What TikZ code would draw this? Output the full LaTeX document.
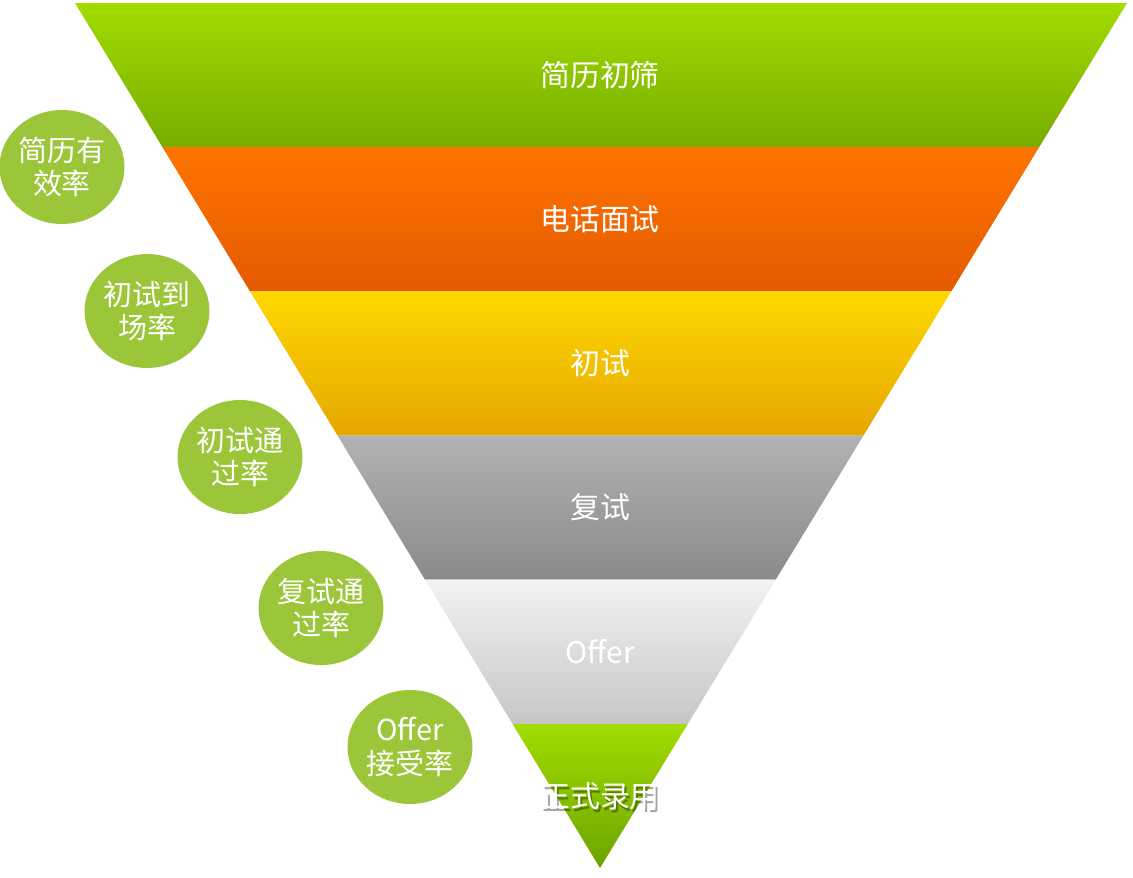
\documentclass[tikz,border=0pt]{standalone}
\usepackage{fontspec}
\setmainfont{Noto Sans CJK SC}
\usetikzlibrary{math,shapes.geometric}
\definecolor{greenTop}{HTML}{A2DC00}
\definecolor{greenBot}{HTML}{78AC00}
\definecolor{orangeTop}{HTML}{FF7400}
\definecolor{orangeBot}{HTML}{E45A00}
\definecolor{yellowTop}{HTML}{FFD800}
\definecolor{yellowBot}{HTML}{E5A700}
\definecolor{grayTop}{HTML}{B2B2B2}
\definecolor{grayBot}{HTML}{8A8A8A}
\definecolor{lightTop}{HTML}{F2F2F2}
\definecolor{lightBot}{HTML}{C6C6C6}
\definecolor{lastBot}{HTML}{6CA400}
\definecolor{rateGreen}{HTML}{9BC63A}

\begin{document}
\begin{tikzpicture}[x=0.02cm,y=-0.02cm,
    bandlabel/.style={text=white,font=\fontsize{17}{20}\selectfont},
    ratecircle/.style={ellipse,fill=rateGreen,minimum width=2.5cm,minimum height=2.28cm,
      inner sep=0pt,text=white,align=center,font=\fontsize{16.5}{19}\selectfont}]
      \useasboundingbox (0,0) rectangle (1133,877);
      % funnel bands
      \foreach \i/\ctop/\cbot/\txt in {0/greenTop/greenBot/简历初筛,1/orangeTop/orangeBot/电话面试,
          2/yellowTop/yellowBot/初试,3/grayTop/grayBot/复试,4/lightTop/lightBot/Offer,5/greenTop/lastBot/正式录用} {
        \tikzmath{\ya = 3 + 144.17*\i; \yb = \ya + 144.17;
          \la = 75 + 0.60694*(\ya - 3); \lb = 75 + 0.60694*(\yb - 3);
          \ra = 1127 - 0.60925*(\ya - 3); \rb = 1127 - 0.60925*(\yb - 3); \ym = (\ya + \yb)/2;}
        \shade[top color=\ctop, bottom color=\cbot] (\la,\ya) -- (\ra,\ya) -- (\rb,\yb) -- (\lb,\yb) -- cycle;
        \ifnum\i=5
          \node[bandlabel,text=black,opacity=0.35] (shadow5) at (602,799) {\txt};
        \fi
        \node[bandlabel] (band\i) at (600,\ym) {\txt};
      }
      % conversion rates
      \node[ratecircle] (rate1) at (62,167) {简历有\\效率};
      \node[ratecircle] (rate2) at (147,311) {初试到\\场率};
      \node[ratecircle] (rate3) at (240,457) {初试通\\过率};
      \node[ratecircle] (rate4) at (321,608) {复试通\\过率};
      \node[ratecircle] (rate5) at (410,747) {Offer\\接受率};
    \end{tikzpicture}
\end{document}
